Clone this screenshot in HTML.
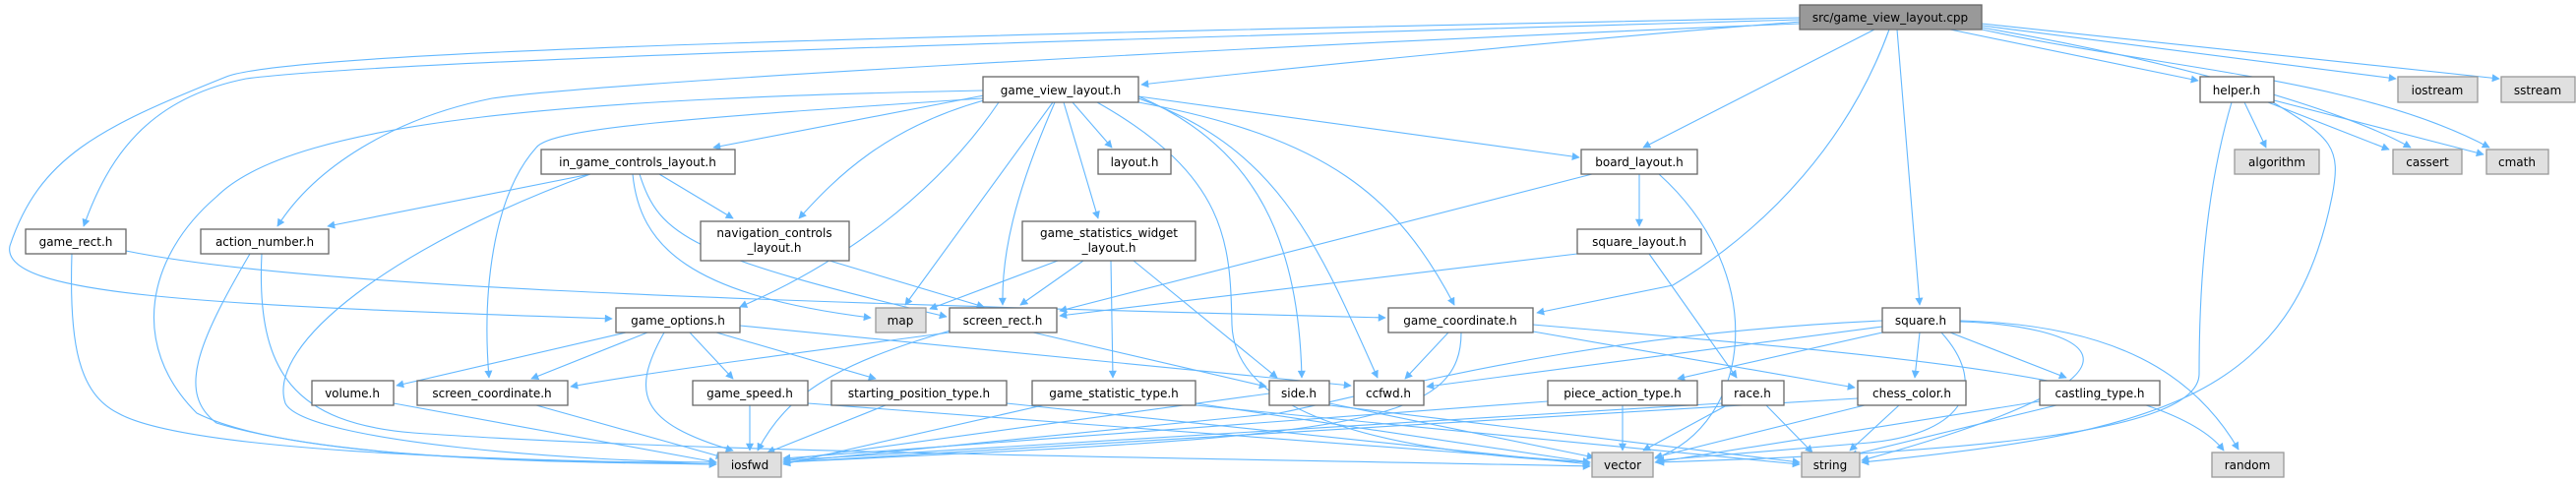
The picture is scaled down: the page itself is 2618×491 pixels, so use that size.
<!DOCTYPE html>
<html><head><meta charset="utf-8"><style>
html,body{margin:0;padding:0;background:#fff;}
svg{display:block;}
text{font-family:"DejaVu Sans","Liberation Sans",sans-serif;font-size:12px;fill:#000;text-anchor:middle;}
.e{fill:none;stroke:#63b8ff;stroke-width:1.1;marker-end:url(#a);}
.n{fill:#fff;stroke:#666;stroke-width:1.3;}
.g{fill:#e0e0e0;stroke:#999;stroke-width:1.3;}
.s{fill:#999;stroke:#666;stroke-width:1.3;}
</style></head><body>
<svg width="2618" height="491" viewBox="0 0 2618 491" xmlns="http://www.w3.org/2000/svg">
<defs><marker id="a" viewBox="0 0 10 10" refX="9" refY="5" markerWidth="10" markerHeight="8" markerUnits="userSpaceOnUse" orient="auto"><path d="M0,0 L10,5 L0,10 z" fill="#63b8ff"/></marker></defs>
<g>
<path class="e" d="M1830,22 C1600,40 1300,70 1160,86"/>
<path class="e" d="M1829,20 C1200,38 400,60 250,80 C150,100 110,160 85,230"/>
<path class="e" d="M1829,18 C1000,35 300,50 230,78 C100,130 40,160 10,250 C0,300 200,310 622,324"/>
<path class="e" d="M1829,24 C1200,50 600,85 500,100 C400,120 320,170 282,230"/>
<path class="e" d="M1905,30 L1670,150"/>
<path class="e" d="M1920,30 C1880,140 1800,230 1700,290 L1562,318"/>
<path class="e" d="M1928,30 L1951,310"/>
<path class="e" d="M1982,30 L2234,82"/>
<path class="e" d="M2014,26 L2435,80"/>
<path class="e" d="M2014,24 L2540,80"/>
<path class="e" d="M2014,28 C2200,60 2380,110 2450,150"/>
<path class="e" d="M2014,30 C2200,70 2400,80 2530,150"/>
<path class="e" d="M1000,97 L725,150"/>
<path class="e" d="M1000,102 C900,130 850,180 812,222"/>
<path class="e" d="M1015,104 C950,200 850,270 752,312"/>
<path class="e" d="M999,100 C700,120 560,130 545,150 C500,200 490,300 497,384"/>
<path class="e" d="M999,92 C600,100 300,120 220,200 C150,260 130,350 200,420 C300,470 600,470 728,472"/>
<path class="e" d="M1070,104 L920,310"/>
<path class="e" d="M1072,104 C1030,200 1018,260 1019,310"/>
<path class="e" d="M1090,104 L1130,150"/>
<path class="e" d="M1081,104 L1116,222"/>
<path class="e" d="M1115,104 C1250,180 1250,250 1252,330 C1255,420 1400,460 1616,470"/>
<path class="e" d="M1157,98 C1280,150 1320,250 1323,384"/>
<path class="e" d="M1157,100 C1300,150 1340,250 1400,384"/>
<path class="e" d="M1157,104 C1350,140 1420,200 1478,310"/>
<path class="e" d="M1157,98 L1605,160"/>
<path class="e" d="M600,177 L333,230"/>
<path class="e" d="M670,177 L745,222"/>
<path class="e" d="M600,177 C400,250 270,350 290,410 C310,450 600,470 728,470"/>
<path class="e" d="M643,177 C650,250 700,300 885,323"/>
<path class="e" d="M650,177 C670,240 700,260 962,322"/>
<path class="e" d="M73,258 C70,350 80,400 120,420 C200,465 600,468 728,472"/>
<path class="e" d="M128,255 C300,290 700,305 1408,323"/>
<path class="e" d="M254,258 C200,350 180,400 220,430 C350,470 600,470 728,470"/>
<path class="e" d="M266,258 C260,380 300,430 420,440 C700,460 1200,465 1616,474"/>
<path class="e" d="M843,265 L1000,312"/>
<path class="e" d="M636,338 L403,392"/>
<path class="e" d="M658,338 L540,385"/>
<path class="e" d="M675,338 C640,400 650,430 745,458"/>
<path class="e" d="M701,338 L745,385"/>
<path class="e" d="M728,338 L890,385"/>
<path class="e" d="M752,331 L1373,392"/>
<path class="e" d="M1075,265 L945,314"/>
<path class="e" d="M1101,265 L1037,310"/>
<path class="e" d="M1129,265 L1131,384"/>
<path class="e" d="M1152,265 L1298,384"/>
<path class="e" d="M1618,177 L1077,316"/>
<path class="e" d="M1666,177 L1666,230"/>
<path class="e" d="M1686,177 C1800,280 1780,430 1682,466"/>
<path class="e" d="M1603,258 L1077,321"/>
<path class="e" d="M1676,258 L1765,384"/>
<path class="e" d="M965,338 C800,360 650,380 580,393"/>
<path class="e" d="M966,336 C850,370 800,400 770,458"/>
<path class="e" d="M1050,338 L1287,393"/>
<path class="e" d="M1472,338 L1428,385"/>
<path class="e" d="M1485,338 C1485,420 1400,440 1000,460 L796,470"/>
<path class="e" d="M1558,330 C1900,360 2200,380 2260,458"/>
<path class="e" d="M1558,337 L1885,394"/>
<path class="e" d="M400,410 L728,470"/>
<path class="e" d="M545,412 L735,465"/>
<path class="e" d="M762,412 L762,458"/>
<path class="e" d="M821,410 L1616,470"/>
<path class="e" d="M900,412 L780,460"/>
<path class="e" d="M1023,410 L1616,472"/>
<path class="e" d="M1060,412 L796,472"/>
<path class="e" d="M1215,410 L1616,470"/>
<path class="e" d="M1215,412 L1829,472"/>
<path class="e" d="M1290,400 L796,468"/>
<path class="e" d="M1351,410 L1620,465"/>
<path class="e" d="M1351,412 L1829,470"/>
<path class="e" d="M1649,412 L1649,458"/>
<path class="e" d="M1573,408 L796,466"/>
<path class="e" d="M1755,412 L1670,458"/>
<path class="e" d="M1750,410 L796,468"/>
<path class="e" d="M1795,412 L1842,460"/>
<path class="e" d="M1930,412 L1880,458"/>
<path class="e" d="M1895,412 L1682,465"/>
<path class="e" d="M1888,405 L796,470"/>
<path class="e" d="M2090,412 L1880,463"/>
<path class="e" d="M2073,408 L1682,470"/>
<path class="e" d="M1913,332 L1450,393"/>
<path class="e" d="M1913,338 L1705,385"/>
<path class="e" d="M1951,338 L1946,384"/>
<path class="e" d="M1982,338 L2100,384"/>
<path class="e" d="M1913,326 C1600,340 1400,400 1300,420 L796,470"/>
<path class="e" d="M1973,338 C2020,390 2000,440 1900,450 L1684,468"/>
<path class="e" d="M1992,327 C2100,330 2250,370 1892,468"/>
<path class="e" d="M1992,326 C2150,330 2230,380 2275,457"/>
<path class="e" d="M2281,104 L2303,150"/>
<path class="e" d="M2305,104 L2428,152"/>
<path class="e" d="M2311,102 L2524,157"/>
<path class="e" d="M2268,104 C2240,200 2235,300 2235,380 C2235,440 2000,460 1684,470"/>
<path class="e" d="M2310,104 C2370,140 2380,150 2370,200 C2330,400 2200,440 1892,470"/>
</g>
<g>
<rect class="s" x="1829" y="5" width="185" height="25"/><text x="1921" y="22">src/game_view_layout.cpp</text>
<rect class="n" x="999" y="78" width="158" height="26"/><text x="1078" y="96">game_view_layout.h</text>
<rect class="n" x="2236" y="78" width="75" height="26"/><text x="2273" y="96">helper.h</text>
<rect class="g" x="2437" y="78" width="81" height="26"/><text x="2477" y="96">iostream</text>
<rect class="g" x="2542" y="78" width="75" height="26"/><text x="2579" y="96">sstream</text>
<rect class="n" x="550" y="152" width="197" height="25"/><text x="648" y="169">in_game_controls_layout.h</text>
<rect class="n" x="1116" y="152" width="74" height="25"/><text x="1153" y="169">layout.h</text>
<rect class="n" x="1607" y="152" width="118" height="25"/><text x="1666" y="169">board_layout.h</text>
<rect class="g" x="2271" y="152" width="86" height="25"/><text x="2314" y="169">algorithm</text>
<rect class="g" x="2432" y="152" width="70" height="25"/><text x="2467" y="169">cassert</text>
<rect class="g" x="2527" y="152" width="63" height="25"/><text x="2558" y="169">cmath</text>
<rect class="n" x="26" y="233" width="102" height="25"/><text x="77" y="250">game_rect.h</text>
<rect class="n" x="204" y="233" width="130" height="25"/><text x="269" y="250">action_number.h</text>
<rect class="n" x="712" y="225" width="151" height="40"/><text x="787" y="241">navigation_controls</text><text x="787" y="256">_layout.h</text>
<rect class="n" x="1039" y="225" width="176" height="40"/><text x="1127" y="241">game_statistics_widget</text><text x="1127" y="256">_layout.h</text>
<rect class="n" x="1603" y="233" width="126" height="25"/><text x="1666" y="250">square_layout.h</text>
<rect class="n" x="626" y="313" width="126" height="25"/><text x="689" y="330">game_options.h</text>
<rect class="g" x="890" y="313" width="51" height="25"/><text x="915" y="330">map</text>
<rect class="n" x="965" y="313" width="109" height="25"/><text x="1019" y="330">screen_rect.h</text>
<rect class="n" x="1411" y="313" width="147" height="25"/><text x="1484" y="330">game_coordinate.h</text>
<rect class="n" x="1913" y="313" width="79" height="25"/><text x="1952" y="330">square.h</text>
<rect class="n" x="317" y="387" width="83" height="25"/><text x="358" y="404">volume.h</text>
<rect class="n" x="424" y="387" width="153" height="25"/><text x="500" y="404">screen_coordinate.h</text>
<rect class="n" x="704" y="387" width="117" height="25"/><text x="762" y="404">game_speed.h</text>
<rect class="n" x="845" y="387" width="178" height="25"/><text x="934" y="404">starting_position_type.h</text>
<rect class="n" x="1049" y="387" width="166" height="25"/><text x="1132" y="404">game_statistic_type.h</text>
<rect class="n" x="1290" y="387" width="61" height="25"/><text x="1320" y="404">side.h</text>
<rect class="n" x="1376" y="387" width="71" height="25"/><text x="1411" y="404">ccfwd.h</text>
<rect class="n" x="1573" y="387" width="152" height="25"/><text x="1649" y="404">piece_action_type.h</text>
<rect class="n" x="1750" y="387" width="63" height="25"/><text x="1781" y="404">race.h</text>
<rect class="n" x="1888" y="387" width="110" height="25"/><text x="1943" y="404">chess_color.h</text>
<rect class="n" x="2073" y="387" width="122" height="25"/><text x="2134" y="404">castling_type.h</text>
<rect class="g" x="730" y="460" width="64" height="25"/><text x="762" y="477">iosfwd</text>
<rect class="g" x="1618" y="460" width="62" height="25"/><text x="1649" y="477">vector</text>
<rect class="g" x="1831" y="460" width="59" height="25"/><text x="1860" y="477">string</text>
<rect class="g" x="2248" y="460" width="73" height="25"/><text x="2284" y="477">random</text>
</g>
</svg>
</body></html>
